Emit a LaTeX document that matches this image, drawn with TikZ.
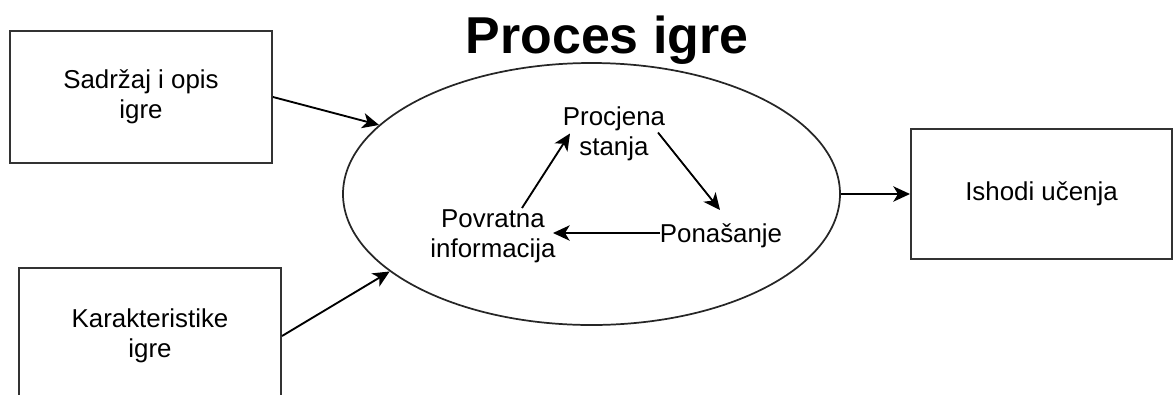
\documentclass[tikz,border=0pt]{standalone}
\usepackage{fontspec}
\setmainfont{Liberation Sans}
\usetikzlibrary{arrows.meta,shapes.geometric,calc}
\begin{document}
\begin{tikzpicture}[x=0.75pt,y=-0.75pt,
  box/.style={draw=black!80, line width=1.5pt, rectangle, align=center, inner sep=0pt, font=\fontsize{19.4}{22.5}\selectfont},
  lbl/.style={align=center, inner sep=0pt, font=\fontsize{19.4}{22.5}\selectfont},
  arr/.style={-{Stealth[length=12.5pt,width=11.5pt,inset=3.5pt]}, line width=1.4pt}]
\useasboundingbox (0,0) rectangle (1175,394);
\clip (0,0) rectangle (1175,394);
\node[box, minimum width=196.5pt, minimum height=99pt] (b1) at (141,97) {Sadržaj i opis\\igre};
\node[box, minimum width=196.5pt, minimum height=102pt] (b2) at (150,336) {Karakteristike\\igre};
\node[box, minimum width=195.75pt, minimum height=97.5pt] (b3) at (1041.5,194) {Ishodi učenja};
\node[draw=black!85, ellipse, line width=1.3pt, minimum width=372.75pt, minimum height=196.5pt, inner sep=0pt] (ell) at (591.5,194) {};
\node[font=\bfseries\fontsize{38.9}{46}\selectfont, inner sep=0pt] (title) at (607,40) {Proces igre};
\node[lbl] (proc) at (614,133.5) {Procjena\\stanja};
\node[lbl] (pov) at (493,236) {Povratna\\informacija};
\node[lbl] (pon) at (721,236) {Ponašanje};
\draw[arr] (b1.east) -- (ell.162.8);
\draw[arr] (b2.east) -- (ell.201.9);
\draw[arr] (ell.east) -- (b3.west);
\draw[arr] ($(pov)+(29,-28)$) -- ($(proc)+(-44,0)$);
\draw[arr] ($(proc)+(44,-1)$) -- ($(pon)+(-1,-26)$);
\draw[arr] ($(pon)+(-61,-3)$) -- ($(pov)+(60,-3)$);
\end{tikzpicture}
\end{document}
